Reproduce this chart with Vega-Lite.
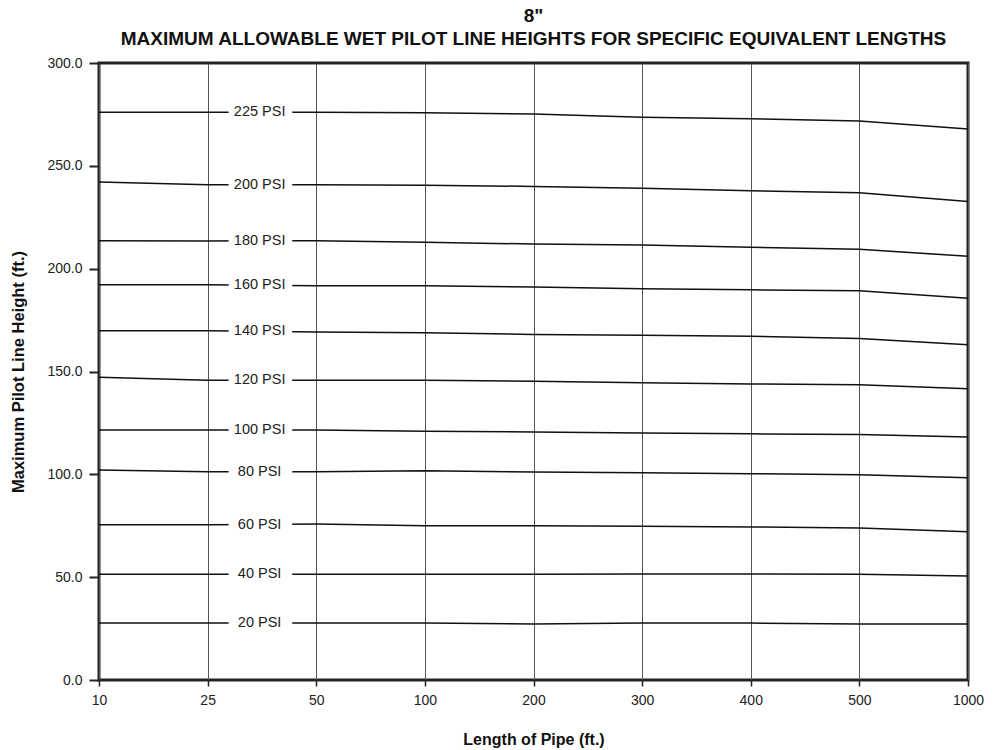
{
  "$schema": "https://vega.github.io/schema/vega-lite/v6.json",
  "width": 869,
  "height": 617,
  "autosize": "none",
  "padding": {"left": 99, "top": 63, "right": 27, "bottom": 70},
  "background": "white",
  "config": {
    "font": "Liberation Sans",
    "view": {"stroke": "#222222", "strokeWidth": 3}
  },
  "title": {
    "text": ["8\"", "MAXIMUM ALLOWABLE WET PILOT LINE HEIGHTS FOR SPECIFIC EQUIVALENT LENGTHS"],
    "fontSize": 19,
    "fontWeight": "bold",
    "lineHeight": 23,
    "offset": 7,
    "color": "#111111",
    "anchor": "middle"
  },
  "data": {
    "values": [
      {"psi": "225 PSI", "length": 10, "height": 276.1},
      {"psi": "225 PSI", "length": 25, "height": 276.1},
      {"psi": "225 PSI", "length": 50, "height": 276.1},
      {"psi": "225 PSI", "length": 100, "height": 275.8},
      {"psi": "225 PSI", "length": 200, "height": 275.2},
      {"psi": "225 PSI", "length": 300, "height": 273.6},
      {"psi": "225 PSI", "length": 400, "height": 272.9},
      {"psi": "225 PSI", "length": 500, "height": 271.8},
      {"psi": "225 PSI", "length": 1000, "height": 267.9},

      {"psi": "200 PSI", "length": 10, "height": 242.1},
      {"psi": "200 PSI", "length": 25, "height": 240.8},
      {"psi": "200 PSI", "length": 50, "height": 240.8},
      {"psi": "200 PSI", "length": 100, "height": 240.6},
      {"psi": "200 PSI", "length": 200, "height": 240.0},
      {"psi": "200 PSI", "length": 300, "height": 239.1},
      {"psi": "200 PSI", "length": 400, "height": 237.9},
      {"psi": "200 PSI", "length": 500, "height": 236.9},
      {"psi": "200 PSI", "length": 1000, "height": 232.7},

      {"psi": "180 PSI", "length": 10, "height": 213.6},
      {"psi": "180 PSI", "length": 25, "height": 213.5},
      {"psi": "180 PSI", "length": 50, "height": 213.6},
      {"psi": "180 PSI", "length": 100, "height": 212.8},
      {"psi": "180 PSI", "length": 200, "height": 212.0},
      {"psi": "180 PSI", "length": 300, "height": 211.5},
      {"psi": "180 PSI", "length": 400, "height": 210.4},
      {"psi": "180 PSI", "length": 500, "height": 209.5},
      {"psi": "180 PSI", "length": 1000, "height": 206.0},

      {"psi": "160 PSI", "length": 10, "height": 192.2},
      {"psi": "160 PSI", "length": 25, "height": 192.2},
      {"psi": "160 PSI", "length": 50, "height": 191.7},
      {"psi": "160 PSI", "length": 100, "height": 191.7},
      {"psi": "160 PSI", "length": 200, "height": 191.1},
      {"psi": "160 PSI", "length": 300, "height": 190.2},
      {"psi": "160 PSI", "length": 400, "height": 189.7},
      {"psi": "160 PSI", "length": 500, "height": 189.3},
      {"psi": "160 PSI", "length": 1000, "height": 185.6},

      {"psi": "140 PSI", "length": 10, "height": 169.8},
      {"psi": "140 PSI", "length": 25, "height": 169.8},
      {"psi": "140 PSI", "length": 50, "height": 169.2},
      {"psi": "140 PSI", "length": 100, "height": 168.8},
      {"psi": "140 PSI", "length": 200, "height": 168.0},
      {"psi": "140 PSI", "length": 300, "height": 167.6},
      {"psi": "140 PSI", "length": 400, "height": 167.1},
      {"psi": "140 PSI", "length": 500, "height": 166.1},
      {"psi": "140 PSI", "length": 1000, "height": 163.0},

      {"psi": "120 PSI", "length": 10, "height": 147.2},
      {"psi": "120 PSI", "length": 25, "height": 145.8},
      {"psi": "120 PSI", "length": 50, "height": 145.8},
      {"psi": "120 PSI", "length": 100, "height": 145.8},
      {"psi": "120 PSI", "length": 200, "height": 145.2},
      {"psi": "120 PSI", "length": 300, "height": 144.5},
      {"psi": "120 PSI", "length": 400, "height": 143.9},
      {"psi": "120 PSI", "length": 500, "height": 143.6},
      {"psi": "120 PSI", "length": 1000, "height": 141.6},

      {"psi": "100 PSI", "length": 10, "height": 121.5},
      {"psi": "100 PSI", "length": 25, "height": 121.5},
      {"psi": "100 PSI", "length": 50, "height": 121.5},
      {"psi": "100 PSI", "length": 100, "height": 120.9},
      {"psi": "100 PSI", "length": 200, "height": 120.6},
      {"psi": "100 PSI", "length": 300, "height": 120.1},
      {"psi": "100 PSI", "length": 400, "height": 119.7},
      {"psi": "100 PSI", "length": 500, "height": 119.4},
      {"psi": "100 PSI", "length": 1000, "height": 118.1},

      {"psi": "80 PSI", "length": 10, "height": 102.1},
      {"psi": "80 PSI", "length": 25, "height": 101.3},
      {"psi": "80 PSI", "length": 50, "height": 101.3},
      {"psi": "80 PSI", "length": 100, "height": 101.8},
      {"psi": "80 PSI", "length": 200, "height": 101.1},
      {"psi": "80 PSI", "length": 300, "height": 100.8},
      {"psi": "80 PSI", "length": 400, "height": 100.3},
      {"psi": "80 PSI", "length": 500, "height": 99.8},
      {"psi": "80 PSI", "length": 1000, "height": 98.3},

      {"psi": "60 PSI", "length": 10, "height": 75.5},
      {"psi": "60 PSI", "length": 25, "height": 75.5},
      {"psi": "60 PSI", "length": 50, "height": 75.8},
      {"psi": "60 PSI", "length": 100, "height": 75.0},
      {"psi": "60 PSI", "length": 200, "height": 75.0},
      {"psi": "60 PSI", "length": 300, "height": 74.7},
      {"psi": "60 PSI", "length": 400, "height": 74.4},
      {"psi": "60 PSI", "length": 500, "height": 73.9},
      {"psi": "60 PSI", "length": 1000, "height": 72.1},

      {"psi": "40 PSI", "length": 10, "height": 51.4},
      {"psi": "40 PSI", "length": 25, "height": 51.4},
      {"psi": "40 PSI", "length": 50, "height": 51.4},
      {"psi": "40 PSI", "length": 100, "height": 51.4},
      {"psi": "40 PSI", "length": 200, "height": 51.4},
      {"psi": "40 PSI", "length": 300, "height": 51.6},
      {"psi": "40 PSI", "length": 400, "height": 51.6},
      {"psi": "40 PSI", "length": 500, "height": 51.4},
      {"psi": "40 PSI", "length": 1000, "height": 50.6},

      {"psi": "20 PSI", "length": 10, "height": 27.7},
      {"psi": "20 PSI", "length": 25, "height": 27.7},
      {"psi": "20 PSI", "length": 50, "height": 27.7},
      {"psi": "20 PSI", "length": 100, "height": 27.7},
      {"psi": "20 PSI", "length": 200, "height": 27.2},
      {"psi": "20 PSI", "length": 300, "height": 27.7},
      {"psi": "20 PSI", "length": 400, "height": 27.7},
      {"psi": "20 PSI", "length": 500, "height": 27.2},
      {"psi": "20 PSI", "length": 1000, "height": 27.2}
    ]
  },
  "encoding": {
    "x": {
      "field": "length",
      "type": "ordinal",
      "scale": {"type": "point", "padding": 0},
      "axis": {
        "title": "Length of Pipe (ft.)",
        "titleFontSize": 16,
        "titleFontWeight": "bold",
        "titleColor": "#111111",
        "titlePadding": 24,
        "labelAngle": 0,
        "labelFontSize": 14,
        "labelColor": "#222222",
        "labelPadding": 7,
        "tickSize": 6,
        "tickWidth": 1.5,
        "tickColor": "#222222",
        "domain": false,
        "grid": true,
        "gridColor": "#555555",
        "gridWidth": 1
      }
    },
    "y": {
      "field": "height",
      "type": "quantitative",
      "scale": {"domain": [0, 300], "nice": false},
      "axis": {
        "title": "Maximum Pilot Line Height (ft.)",
        "titleFontSize": 16.5,
        "titleFontWeight": "bold",
        "titleColor": "#111111",
        "titlePadding": 20,
        "values": [0, 50, 100, 150, 200, 250, 300],
        "format": ".1f",
        "labelFontSize": 14,
        "labelColor": "#222222",
        "labelPadding": 7,
        "tickSize": 10,
        "tickWidth": 2,
        "tickColor": "#222222",
        "domain": false,
        "grid": false
      }
    }
  },
  "layer": [
    {
      "mark": {"type": "line", "color": "#111111", "strokeWidth": 1.5},
      "encoding": {"detail": {"field": "psi"}}
    },
    {
      "transform": [{"filter": "datum.length == 25"}],
      "mark": {"type": "rect", "fill": "white", "xOffset": 21, "x2Offset": -24, "yOffset": -8, "y2Offset": 8},
      "encoding": {"x2": {"datum": 50}, "y2": {"field": "height"}}
    },
    {
      "transform": [{"filter": "datum.length == 25"}],
      "mark": {"type": "text", "dx": 52, "fontSize": 14.5, "color": "#222222", "baseline": "middle", "align": "center"},
      "encoding": {"text": {"field": "psi"}}
    }
  ]
}
